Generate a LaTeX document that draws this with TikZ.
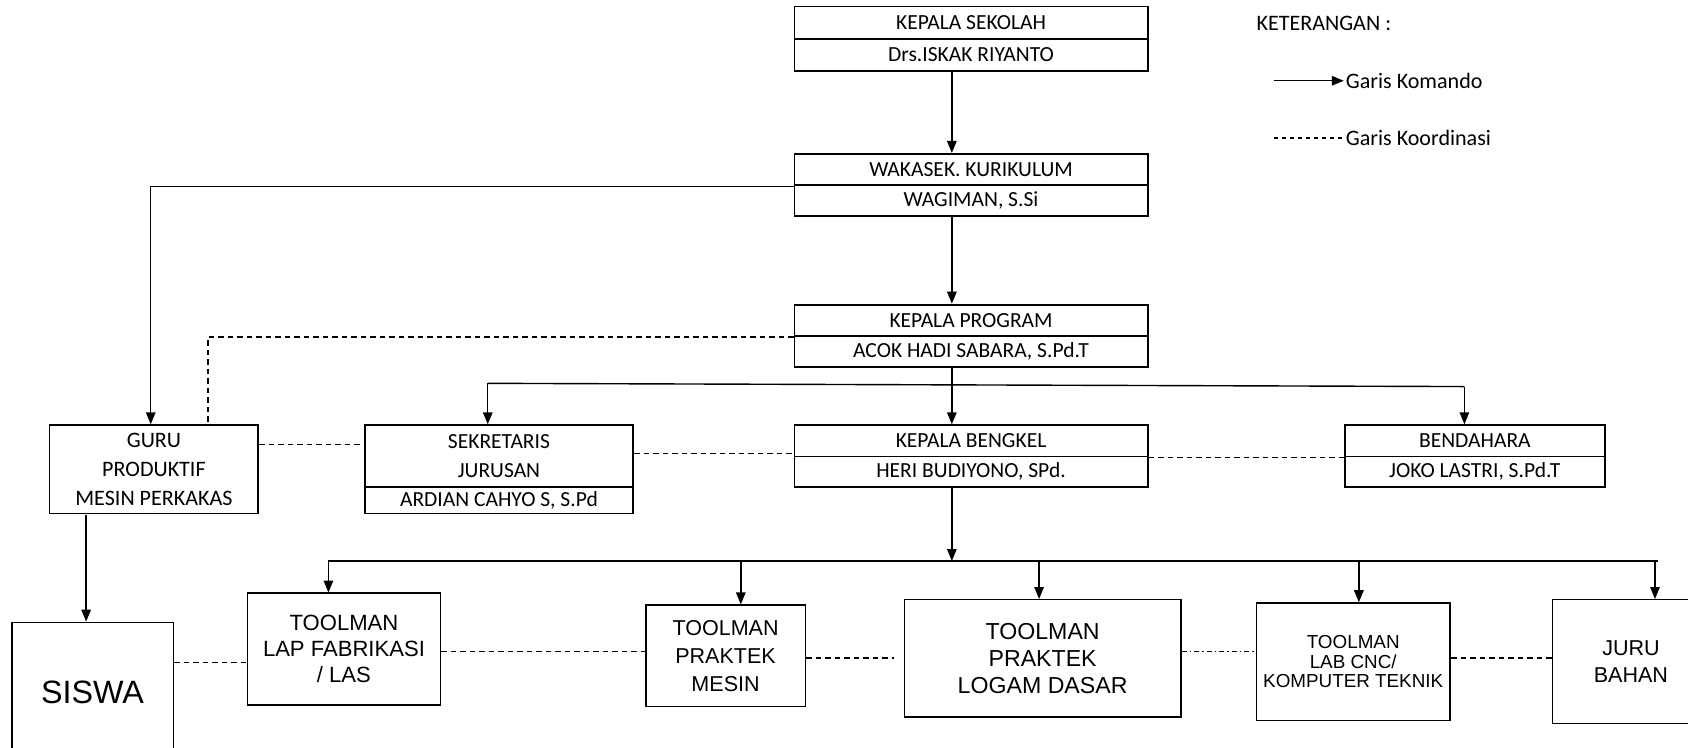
\documentclass[tikz,border=0pt]{standalone}
\usepackage{fontspec}
\setmainfont{Carlito}
\newfontfamily\arialf{Liberation Sans}
\usetikzlibrary{arrows.meta}
\begin{document}
\begin{tikzpicture}[x=1pt,y=-1pt,scale=1.0765,
  every node/.append style={transform shape},
  topbox/.style={draw, line width=1.9pt, rectangle, inner sep=0pt, align=center, font=\fontsize{20}{27}\selectfont},
  lowbox/.style={draw, line width=1.4pt, rectangle, inner sep=0pt, align=center},
  legtext/.style={anchor=west, inner sep=2pt, font=\fontsize{20.5}{24}\selectfont},
  plain/.style={line width=1.4pt},
  cmd/.style={line width=1.4pt, -{Triangle[length=12pt,width=9.5pt]}},
  coord/.style={line width=1.4pt, dash pattern=on 5.5pt off 4pt},
  legdash/.style={line width=1.4pt, dash pattern=on 4.5pt off 3.5pt},
  dashdot/.style={line width=1.4pt, dash pattern=on 5pt off 3pt on 1.5pt off 3pt}]
\useasboundingbox (0,0) rectangle (1568,694);

% upper boxes
\node[topbox, minimum width=328pt, minimum height=30pt] (ks1) at (902,21) {KEPALA SEKOLAH};
\node[topbox, minimum width=328pt, minimum height=30pt] (ks2) at (902,51) {Drs.ISKAK RIYANTO};
\node[topbox, minimum width=328pt, minimum height=29pt] (wk1) at (902,157.5) {WAKASEK. KURIKULUM};
\node[topbox, minimum width=328pt, minimum height=29pt] (wk2) at (902,186.5) {WAGIMAN, S.Si};
\node[topbox, minimum width=328pt, minimum height=29pt] (kp1) at (902,297.5) {KEPALA PROGRAM};
\node[topbox, minimum width=328pt, minimum height=29pt] (kp2) at (902,326.5) {ACOK HADI SABARA, S.Pd.T};
\node[topbox, minimum width=328pt, minimum height=29pt] (kb1) at (902,409.5) {KEPALA BENGKEL};
\node[topbox, minimum width=328pt, minimum height=28pt] (kb2) at (902,438) {HERI BUDIYONO, SPd.};
\node[topbox, minimum width=242pt, minimum height=29pt] (bd1) at (1370,409.5) {BENDAHARA};
\node[topbox, minimum width=242pt, minimum height=28pt] (bd2) at (1370,438) {JOKO LASTRI, S.Pd.T};
\node[topbox, minimum width=249pt, minimum height=57pt] (sk1) at (463.5,423.5) {SEKRETARIS\\JURUSAN};
\node[topbox, minimum width=249pt, minimum height=25pt] (sk2) at (463.5,464.5) {ARDIAN CAHYO S, S.Pd};
\node[topbox, minimum width=194pt, minimum height=82pt, font=\fontsize{20.5}{27}\selectfont] (guru) at (143,436) {GURU\\PRODUKTIF\\MESIN PERKAKAS};

% legend
\node[legtext] (ket) at (1165,22) {KETERANGAN :};
\coordinate (l1a) at (1183,75);
\node[legtext] (lk) at (1248,75) {Garis Komando};
\coordinate (l2a) at (1183,128);
\node[legtext] (lko) at (1248,128) {Garis Koordinasi};
\draw[cmd] (l1a) -- (lk.west);
\draw[legdash] (l2a) -- (lko.west);

% lower boxes
\node[lowbox, minimum width=150pt, minimum height=200pt] (siswa) at (86,678) {};
\node[inner sep=0pt, font=\arialf\fontsize{30}{34}\selectfont] (siswat) at (86,643) {SISWA};
\node[lowbox, minimum width=179pt, minimum height=104pt, font=\arialf\fontsize{20.5}{24}\selectfont] (lap) at (319.5,603) {TOOLMAN\\LAP FABRIKASI\\/ LAS};
\node[lowbox, minimum width=148pt, minimum height=94pt, font=\arialf\fontsize{20}{26}\selectfont] (mesin) at (674,609) {TOOLMAN\\PRAKTEK\\MESIN};
\node[lowbox, minimum width=257pt, minimum height=109pt, font=\arialf\fontsize{21.5}{25}\selectfont] (logam) at (968.5,611.5) {TOOLMAN\\PRAKTEK\\LOGAM DASAR};
\node[lowbox, minimum width=180pt, minimum height=109pt, font=\arialf\fontsize{17.5}{18}\selectfont] (cnc) at (1257,614.5) {TOOLMAN\\LAB CNC/\\KOMPUTER TEKNIK};
\node[lowbox, minimum width=146pt, minimum height=115pt, font=\arialf\fontsize{20}{25}\selectfont] (juru) at (1515,614.5) {JURU\\BAHAN};

% command lines
\coordinate (cx) at (884,0);
\draw[cmd] (ks2.south -| cx) -- (wk1.north -| cx);
\draw[cmd] (wk2.south -| cx) -- (kp1.north -| cx);
\draw[cmd] (kp2.south -| cx) -- (kb1.north -| cx);
\coordinate (hl) at (453,356);
\coordinate (hr) at (1360,359);
\draw[plain] (hl) -- (hr);
\draw[cmd] (hl) -- (hl |- sk1.north);
\draw[cmd] (hr) -- (hr |- bd1.north);
\coordinate (gx) at (140,0);
\draw[cmd] (wk1.south west) -- (wk1.south west -| gx) -- (gx |- guru.north);
\coordinate (sx) at (80,0);
\draw[cmd] (guru.south -| sx) -- (siswa.north -| sx);

\coordinate (t1) at (305,521);
\coordinate (t2) at (688,521);
\coordinate (t3) at (965,521);
\coordinate (t4) at (1262,521);
\coordinate (t5) at (1537,521);
\coordinate (busr) at (1540,521);
\draw[plain] (t1) -- (busr);
\draw[cmd] (kb2.south -| cx) -- (t1 -| cx);
\draw[cmd] (t1) -- (t1 |- lap.north);
\draw[cmd] (t2) -- (t2 |- mesin.north);
\draw[cmd] (t3) -- (t3 |- logam.north);
\draw[cmd] (t4) -- (t4 |- cnc.north);
\draw[cmd] (t5) -- (t5 |- juru.north);

% coordination lines
\coordinate (dx) at (193,0);
\draw[coord] (kp1.south west) -- (kp1.south west -| dx) -- (dx |- guru.north);
\coordinate (y1) at (0,413);
\coordinate (y2) at (0,421);
\draw[coord] (guru.east |- y1) -- (sk1.west |- y1);
\draw[coord] (sk1.east |- y2) -- (kb1.west |- y2);
\draw[coord] (kb1.south east) -- (bd1.south west);
\coordinate (y3) at (0,615);
\coordinate (y4) at (0,605);
\coordinate (y5) at (0,611);
\draw[coord] (siswa.east |- y3) -- (lap.west |- y3);
\draw[coord] (lap.east |- y4) -- (mesin.west |- y4);
\draw[coord, shorten >=10pt] (mesin.east |- y5) -- (logam.west |- y5);
\draw[dashdot] (logam.east |- y4) -- (cnc.west |- y4);
\draw[coord] (cnc.east |- y5) -- (juru.west |- y5);
\end{tikzpicture}
\end{document}
